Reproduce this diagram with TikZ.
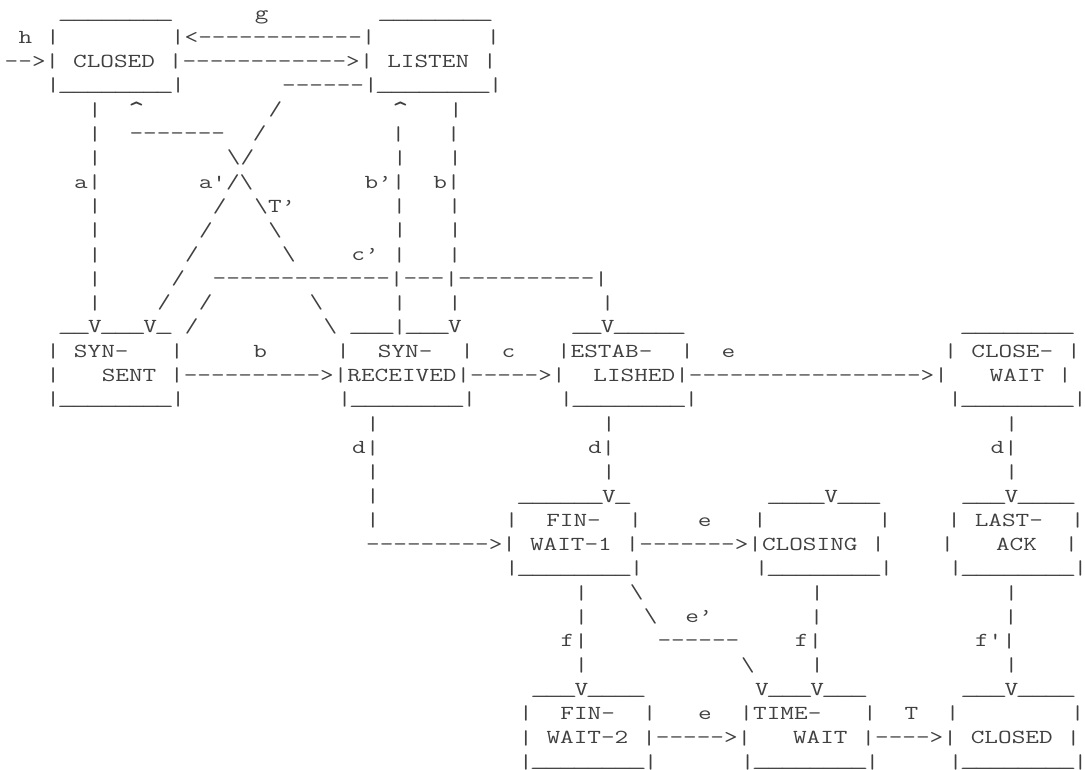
\documentclass[tikz,border=0pt]{standalone}
\usepackage{fontspec}
\usepackage{graphicx}
\usepackage{tikz}
\newcommand{\gap}[1]{\hspace*{#1\dimexpr.525em\relax}}
\newcommand{\rep}[2]{\foreach \k in {1,...,#1}{#2}}
\newcommand{\vb}{\raisebox{-0.5pt}{|}}
\newcommand{\us}{\makebox[.525em]{\raisebox{2pt}{\scalebox{1.45}[1]{\_}}}}
\newcommand{\caret}{\makebox[.525em]{\smash{\raisebox{-5pt}{\scalebox{1.15}[1.5]{\textasciicircum}}}}}
\newcommand{\asc}[1]{\scalebox{1}[0.75]{#1}}

\begin{document}
\begin{tikzpicture}[x=10.425pt, y=-18.1125pt,
    asciirow/.style={anchor=base west, inner sep=0pt, outer sep=0pt, text=black!75,
        font=\fontsize{19.857}{24}\selectfont\ttfamily}]
    \useasboundingbox (-0.3417,-0.7867) rectangle (77.716,31.097);
    % CLOSED and LISTEN
    \node[asciirow] (row0) at (0,0) {\asc{\gap{4}\rep{8}{\us}\gap{6}g\gap{8}\rep{8}{\us}}};
    \node[asciirow] (row1) at (0,1) {\asc{\gap{1}h\gap{1}\vb\gap{8}\vb<\rep{12}{-}\vb\gap{8}\vb}};
    \node[asciirow] (row2) at (0,2) {\asc{\rep{2}{-}>\vb\gap{1}CLOSED\gap{1}\vb\rep{12}{-}>\vb\gap{1}LISTEN\gap{1}\vb}};
    \node[asciirow] (row3) at (0,3) {\asc{\gap{3}\vb\rep{8}{\us}\vb\gap{7}\rep{6}{-}\vb\rep{8}{\us}\vb}};
    % crossing lines
    \node[asciirow] (row4) at (0,4) {\asc{\gap{6}\vb\gap{2}\caret\gap{9}/\gap{8}\caret\gap{3}\vb}};
    \node[asciirow] (row5) at (0,5) {\asc{\gap{6}\vb\gap{2}\rep{7}{-}\gap{2}/\gap{9}\vb\gap{3}\vb}};
    \node[asciirow] (row6) at (0,6) {\asc{\gap{6}\vb\gap{9}\textbackslash/\gap{10}\vb\gap{3}\vb}};
    \node[asciirow] (row7) at (0,7) {\asc{\gap{5}a\vb\gap{7}a\textquotesingle/\textbackslash\gap{8}b’\vb\gap{2}b\vb}};
    \node[asciirow] (row8) at (0,8) {\asc{\gap{6}\vb\gap{8}/\gap{2}\textbackslash T’\gap{7}\vb\gap{3}\vb}};
    \node[asciirow] (row9) at (0,9) {\asc{\gap{6}\vb\gap{7}/\gap{4}\textbackslash\gap{8}\vb\gap{3}\vb}};
    \node[asciirow] (row10) at (0,10) {\asc{\gap{6}\vb\gap{6}/\gap{6}\textbackslash\gap{4}c’\gap{1}\vb\gap{3}\vb}};
    \node[asciirow] (row11) at (0,11) {\asc{\gap{6}\vb\gap{5}/\gap{2}\rep{13}{-}\vb\rep{3}{-}\vb\rep{10}{-}\vb}};
    \node[asciirow] (row12) at (0,12) {\asc{\gap{6}\vb\gap{4}/\gap{2}/\gap{7}\textbackslash\gap{5}\vb\gap{3}\vb\gap{10}\vb}};
    % SYN-SENT, SYN-RECEIVED, ESTABLISHED, CLOSE-WAIT
    \node[asciirow] (row13) at (0,13) {\asc{\gap{4}\rep{2}{\us}V\rep{3}{\us}V\us\gap{1}/\gap{9}\textbackslash\gap{1}\rep{3}{\us}\vb\rep{3}{\us}V\gap{8}\rep{2}{\us}V\rep{5}{\us}\gap{20}\rep{8}{\us}}};
    \node[asciirow] (row14) at (0,14) {\asc{\gap{3}\vb\gap{1}SYN-\gap{3}\vb\gap{5}b\gap{5}\vb\gap{2}SYN-\gap{2}\vb\gap{2}c\gap{3}\vb ESTAB-\gap{2}\vb\gap{2}e\gap{15}\vb\gap{1}CLOSE-\gap{1}\vb}};
    \node[asciirow] (row15) at (0,15) {\asc{\gap{3}\vb\gap{3}SENT\gap{1}\vb\rep{10}{-}>\vb RECEIVED\vb\rep{5}{-}>\vb\gap{2}LISHED\vb\rep{17}{-}>\vb\gap{3}WAIT\gap{1}\vb}};
    \node[asciirow] (row16) at (0,16) {\asc{\gap{3}\vb\rep{8}{\us}\vb\gap{11}\vb\rep{8}{\us}\vb\gap{6}\vb\rep{8}{\us}\vb\gap{18}\vb\rep{8}{\us}\vb}};
    \node[asciirow] (row17) at (0,17) {\asc{\gap{26}\vb\gap{16}\vb\gap{28}\vb}};
    \node[asciirow] (row18) at (0,18) {\asc{\gap{25}d\vb\gap{15}d\vb\gap{27}d\vb}};
    \node[asciirow] (row19) at (0,19) {\asc{\gap{26}\vb\gap{16}\vb\gap{28}\vb}};
    % FIN-WAIT-1, CLOSING, LAST-ACK
    \node[asciirow] (row20) at (0,20) {\asc{\gap{26}\vb\gap{10}\rep{6}{\us}V\us\gap{10}\rep{4}{\us}V\rep{3}{\us}\gap{6}\rep{3}{\us}V\rep{4}{\us}}};
    \node[asciirow] (row21) at (0,21) {\asc{\gap{26}\vb\gap{9}\vb\gap{2}FIN-\gap{2}\vb\gap{4}e\gap{3}\vb\gap{8}\vb\gap{4}\vb\gap{1}LAST-\gap{2}\vb}};
    \node[asciirow] (row22) at (0,22) {\asc{\gap{26}\rep{9}{-}>\vb\gap{1}WAIT-1\gap{1}\vb\rep{7}{-}>\vb CLOSING\gap{1}\vb\gap{4}\vb\gap{3}ACK\gap{2}\vb}};
    \node[asciirow] (row23) at (0,23) {\asc{\gap{36}\vb\rep{8}{\us}\vb\gap{8}\vb\rep{8}{\us}\vb\gap{4}\vb\rep{8}{\us}\vb}};
    \node[asciirow] (row24) at (0,24) {\asc{\gap{41}\vb\gap{3}\textbackslash\gap{12}\vb\gap{13}\vb}};
    \node[asciirow] (row25) at (0,25) {\asc{\gap{41}\vb\gap{4}\textbackslash\gap{2}e’\gap{7}\vb\gap{13}\vb}};
    \node[asciirow] (row26) at (0,26) {\asc{\gap{40}f\vb\gap{5}\rep{6}{-}\gap{4}f\vb\gap{11}f\textquotesingle\vb}};
    \node[asciirow] (row27) at (0,27) {\asc{\gap{41}\vb\gap{11}\textbackslash\gap{4}\vb\gap{13}\vb}};
    % FIN-WAIT-2, TIME-WAIT, CLOSED
    \node[asciirow] (row28) at (0,28) {\asc{\gap{38}\rep{3}{\us}V\rep{4}{\us}\gap{8}V\rep{3}{\us}V\rep{3}{\us}\gap{7}\rep{3}{\us}V\rep{4}{\us}}};
    \node[asciirow] (row29) at (0,29) {\asc{\gap{37}\vb\gap{2}FIN-\gap{2}\vb\gap{3}e\gap{2}\vb TIME-\gap{3}\vb\gap{2}T\gap{2}\vb\gap{8}\vb}};
    \node[asciirow] (row30) at (0,30) {\asc{\gap{37}\vb\gap{1}WAIT-2\gap{1}\vb\rep{5}{-}>\vb\gap{3}WAIT\gap{1}\vb\rep{4}{-}>\vb\gap{1}CLOSED\gap{1}\vb}};
    \node[asciirow] (row31) at (0,31) {\asc{\gap{37}\vb\rep{8}{\us}\vb\gap{6}\vb\rep{8}{\us}\vb\gap{5}\vb\rep{8}{\us}\vb}};
\end{tikzpicture}
\end{document}
